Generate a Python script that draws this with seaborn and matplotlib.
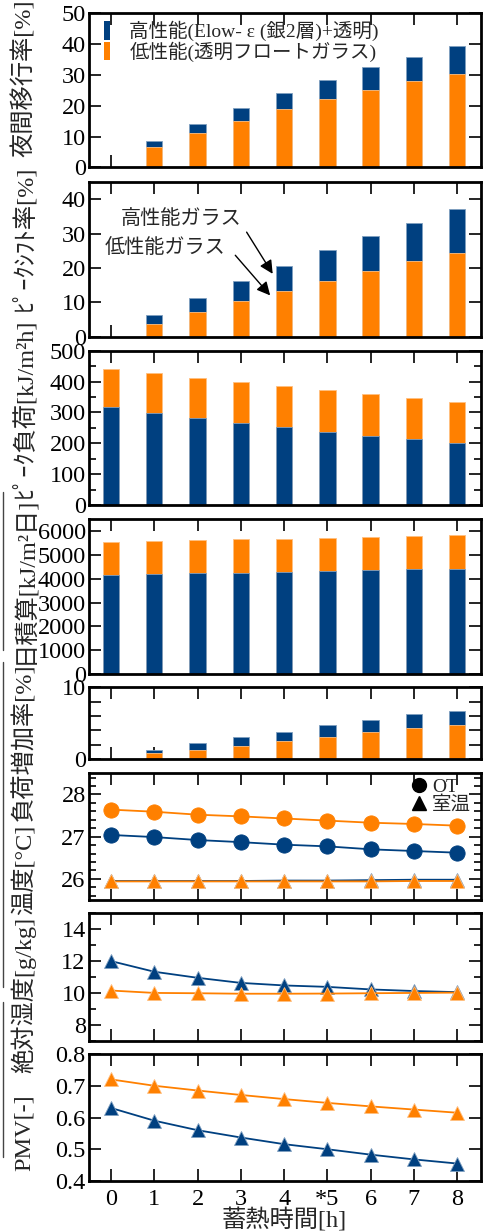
import numpy as np
import pandas as pd
import matplotlib
matplotlib.use('Agg')
import matplotlib.pyplot as plt
import seaborn as sns
from matplotlib.patches import Patch
from matplotlib.lines import Line2D
from matplotlib.ticker import MultipleLocator, NullLocator

# --- data ---
hours = [0, 1, 2, 3, 4, 5, 6, 7, 8]
xtick_labels = ['0', '1', '2', '3', '4', '*5', '6', '7', '8']

# 夜間移行率 [%]
night_high = [0, 8.6, 14.2, 19.4, 24.1, 28.5, 32.5, 35.9, 39.3]
night_low = [0, 6.7, 11.0, 14.9, 18.8, 22.2, 25.1, 27.9, 30.4]

# ピークシフト率 [%]
shift_high = [0, 6.2, 11.3, 16.1, 20.6, 25.2, 29.3, 33.1, 37.1]
shift_low = [0, 3.7, 7.2, 10.4, 13.3, 16.3, 19.2, 21.9, 24.4]

# ピーク負荷 [kJ/m2h]
peak_high = [319, 298, 281, 267, 252, 238, 225, 213, 200]
peak_low = [442, 428, 411, 398, 384, 372, 360, 347, 335]

# 日積算 [kJ/m2日]
daily_high = [4143, 4199, 4227, 4256, 4284, 4340, 4368, 4396, 4424]
daily_low = [5548, 5576, 5632, 5660, 5688, 5702, 5772, 5800, 5829]

# 負荷増加率 [%]
inc_high = [0, 1.26, 2.28, 3.07, 3.77, 4.7, 5.4, 6.23, 6.74]
inc_low = [0, 0.8, 1.3, 1.86, 2.5, 3.07, 3.72, 4.33, 4.79]

# 温度 [°C]
ot_high = [27.04, 26.99, 26.92, 26.87, 26.81, 26.77, 26.70, 26.66, 26.62]
ot_low = [27.64, 27.59, 27.52, 27.48, 27.43, 27.38, 27.33, 27.30, 27.26]
room_high = [25.95, 25.95, 25.95, 25.95, 25.96, 25.96, 25.97, 25.98, 25.98]
room_low = [25.94, 25.94, 25.94, 25.94, 25.94, 25.94, 25.94, 25.95, 25.95]

# 絶対湿度 [g/kg]
hum_high = [12.0, 11.33, 10.95, 10.63, 10.47, 10.38, 10.22, 10.12, 10.05]
hum_low = [10.15, 10.0, 9.98, 9.95, 9.95, 9.96, 9.98, 10.0, 10.02]

# PMV [-]
pmv_high = [0.63, 0.59, 0.56, 0.537, 0.516, 0.5, 0.483, 0.468, 0.455]
pmv_low = [0.72, 0.70, 0.685, 0.671, 0.658, 0.646, 0.635, 0.625, 0.615]

BLUE = '#004080'
ORANGE = '#ff8000'
BLUE_EDGE = '#7f9fc0'
ORANGE_EDGE = '#ffbf80'

sns.set_style('ticks')
plt.rcParams['font.family'] = ['Liberation Serif', 'Noto Sans CJK JP']
plt.rcParams['axes.linewidth'] = 2.0
plt.rcParams['xtick.direction'] = 'in'
plt.rcParams['ytick.direction'] = 'in'
plt.rcParams['xtick.major.size'] = 8.5
plt.rcParams['ytick.major.size'] = 8.5
plt.rcParams['ytick.minor.size'] = 5
plt.rcParams['xtick.major.width'] = 1.2
plt.rcParams['ytick.major.width'] = 1.2
plt.rcParams['ytick.minor.width'] = 1.2
plt.rcParams['xtick.top'] = True
plt.rcParams['ytick.right'] = True
plt.rcParams['xtick.color'] = 'black'
plt.rcParams['ytick.color'] = 'black'
plt.rcParams['axes.edgecolor'] = 'black'

W, H = 488, 1231
fig = plt.figure(figsize=(W / 100, H / 100), dpi=100)

boxes = [(13.3, 167.3), (182, 336.7), (350.7, 505), (519.3, 674),
         (687.3, 759), (773.3, 900), (913.3, 1040.7), (1054, 1181)]
left, right = 88.5, 481
axes = []
for top, bot in boxes:
    ax = fig.add_axes([left / W, 1 - bot / H, (right - left) / W, (bot - top) / H])
    axes.append(ax)


def bars(ax, back, back_c, back_e, front, front_c, front_e):
    sns.barplot(x=hours, y=back, color=back_c, width=0.38, saturation=1,
                errorbar=None, edgecolor=back_e, linewidth=0.6, ax=ax)
    sns.barplot(x=hours, y=front, color=front_c, width=0.38, saturation=1,
                errorbar=None, edgecolor=front_e, linewidth=0.6, ax=ax)


def line(ax, vals, c, e, m, ms):
    sns.lineplot(x=hours, y=vals, color=c, marker=m, markersize=ms,
                 markeredgecolor=e, markeredgewidth=0.6, linewidth=1.3, ax=ax)


bars(axes[0], night_high, BLUE, BLUE_EDGE, night_low, ORANGE, ORANGE_EDGE)
bars(axes[1], shift_high, BLUE, BLUE_EDGE, shift_low, ORANGE, ORANGE_EDGE)
bars(axes[2], peak_low, ORANGE, ORANGE_EDGE, peak_high, BLUE, BLUE_EDGE)
bars(axes[3], daily_low, ORANGE, ORANGE_EDGE, daily_high, BLUE, BLUE_EDGE)
bars(axes[4], inc_high, BLUE, BLUE_EDGE, inc_low, ORANGE, ORANGE_EDGE)

line(axes[5], room_high, BLUE, BLUE_EDGE, '^', 10)
line(axes[5], room_low, ORANGE, ORANGE_EDGE, '^', 10)
line(axes[5], ot_high, BLUE, BLUE, 'o', 11)
line(axes[5], ot_low, ORANGE, ORANGE, 'o', 11)
line(axes[6], hum_high, BLUE, BLUE_EDGE, '^', 10)
line(axes[6], hum_low, ORANGE, ORANGE_EDGE, '^', 10)
line(axes[7], pmv_high, BLUE, BLUE_EDGE, '^', 10)
line(axes[7], pmv_low, ORANGE, ORANGE_EDGE, '^', 10)

# y axes
ylims = [(0, 50), (0, 45), (0, 500), (0, 6500), (0, 10), (25.5, 28.5), (7, 15), (0.4, 0.8)]
yticks = [np.arange(0, 51, 10), np.arange(0, 41, 10), np.arange(0, 501, 100),
          np.arange(0, 6001, 1000), np.arange(0, 11, 2), [26, 27, 28],
          [8, 10, 12, 14], [0.4, 0.5, 0.6, 0.7, 0.8]]
for i, ax in enumerate(axes):
    ax.set_axisbelow(True)
    ax.set_ylim(*ylims[i])
    ax.set_yticks(yticks[i])
    ax.set_xlim(-0.52, 8.55)
    ax.set_xticks(hours)
    ax.xaxis.set_minor_locator(NullLocator())
    ax.set_xlabel('')
    ax.set_ylabel('')
    ax.tick_params(axis='y', labelsize=17.5, pad=2)
    ax.tick_params(axis='x', labelsize=17.5, pad=6)
    if i < 7:
        ax.set_xticklabels([])
    else:
        ax.set_xticklabels(xtick_labels)
    for s in ax.spines.values():
        s.set_visible(True)
        s.set_linewidth(2.0)

axes[4].set_yticklabels(['0', '', '', '', '', '10'])
axes[7].set_yticklabels(['0.4', '0.5', '0.6', '0.7', '0.8'])
axes[2].yaxis.set_minor_locator(MultipleLocator(50))
axes[5].yaxis.set_minor_locator(MultipleLocator(0.2))
axes[6].yaxis.set_minor_locator(MultipleLocator(1))

# legend, top panel
handles = [Patch(facecolor=BLUE, edgecolor='none'), Patch(facecolor=ORANGE, edgecolor='none')]
labels = ['高性能(Elow- ε (銀2層)+透明)', '低性能(透明フロートガラス)']
axes[0].legend(handles, labels, loc='upper left', bbox_to_anchor=(0.04, 0.95),
               frameon=False, fontsize=14, handlelength=0.3, handleheight=1.1,
               handletextpad=1.0, labelspacing=0.0, borderpad=0, borderaxespad=0)

# annotations, peak shift panel
ax = axes[1]
ax.text(1.61, 34.0, '高性能ガラス', fontsize=14.5, ha='center', va='center')
ax.text(1.24, 25.8, '低性能ガラス', fontsize=14.5, ha='center', va='center')
ax.annotate('', xy=(3.77, 17.6), xytext=(3.10, 31.1),
            arrowprops=dict(arrowstyle='-|>', color='k', lw=1, mutation_scale=20))
ax.annotate('', xy=(3.72, 11.4), xytext=(2.83, 24.3),
            arrowprops=dict(arrowstyle='-|>', color='k', lw=1, mutation_scale=20))

# marker legend, temperature panel
mh = [Line2D([], [], color='k', marker='o', linestyle='none', markersize=10),
      Line2D([], [], color='k', marker='^', linestyle='none', markersize=10)]
axes[5].legend(mh, ['OT', '室温'], loc='upper right', bbox_to_anchor=(0.975, 0.96),
               frameon=False, fontsize=14, handlelength=0.8, handletextpad=0.3,
               labelspacing=0.0, borderpad=0, borderaxespad=0)

# y labels (placed by hand, as in the original layout)
ylabels = ['夜間移行率[%]', 'ﾋﾟｰｸｼﾌﾄ率[%]', 'ﾋﾟｰｸ負荷[kJ/m²h]', '日積算[kJ/m²日]',
           '負荷増加率[%]', '温度[°C]', '絶対湿度[g/kg]', 'PMV[-]']
label_y = [78, 238, 408, 580, 742, 870, 995, 1133]
for txt, yy in zip(ylabels, label_y):
    fig.text(24 / W, 1 - yy / H, txt, rotation=90, fontsize=17.5, ha='center', va='center')

fig.text(284 / W, 1 - 1220 / H, '蓄熱時間[h]', fontsize=17.5, ha='center', va='center')

# left frame fragments
for y0, y1 in [(492, 650), (662, 987), (1002, 1157)]:
    fig.add_artist(Line2D([2.5 / W, 2.5 / W], [1 - y0 / H, 1 - y1 / H],
                          transform=fig.transFigure, color='#444444', lw=1))

fig.savefig('out.png', dpi=100)
